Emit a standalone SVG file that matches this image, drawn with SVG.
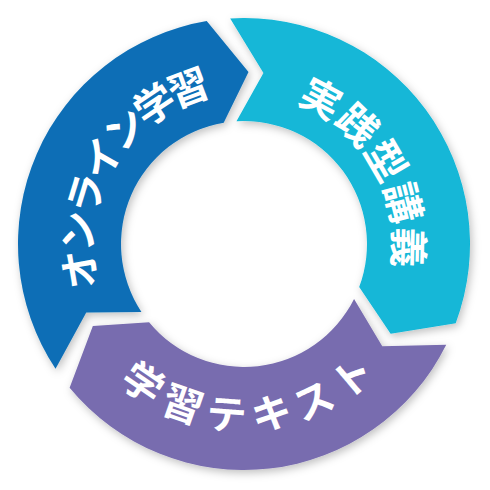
<svg xmlns="http://www.w3.org/2000/svg" width="490" height="490" viewBox="0 0 490 490">
  <defs>
    <filter id="shadow" x="-20%" y="-20%" width="140%" height="140%">
      <feDropShadow dx="2" dy="3" stdDeviation="4" flood-color="#000" flood-opacity="0.25"/>
    </filter>
    <path id="arcBlue" d="M168.1,375.46 A151.8,151.8 0 0 1 319.9,112.54"/>
    <path id="arcCyan" d="M168.53,114.60 A149.8,149.8 0 0 1 319.47,373.40"/>
    <path id="arcPurple" d="M57.06,253.80 A187.2,187.2 0 0 0 430.94,234.20"/>
  </defs>
  <style>
    .seg { filter: url(#shadow); }
    .lbl { fill: #ffffff; font-family: "Noto Sans CJK JP", "Noto Sans", sans-serif; font-weight: 700; }
  </style>
  <rect width="490" height="490" fill="#ffffff"/>

  <g id="node-online">
    <path class="seg" fill="#0A6EB6" d="M55.54,368.73 A226,226 0 0 1 206.71,21.10 L248.50,72.06 L223.70,122.69 A123,123 0 0 0 141.43,311.88 L86.26,312.58 Z"/>
    <text class="lbl" font-size="40" letter-spacing="-5.2" text-anchor="middle"><textPath href="#arcBlue" startOffset="50%">オンライン学習</textPath></text>
  </g>

  <g id="node-jissen">
    <path class="seg" fill="#12B7D7" d="M230.21,18.43 A226,226 0 0 1 455.69,323.15 L390.65,333.87 L359.21,287.07 A123,123 0 0 0 236.49,121.23 L263.47,73.10 Z"/>
    <text class="lbl" font-size="40" letter-spacing="1.3" text-anchor="middle"><textPath href="#arcCyan" startOffset="50%">実践型講義</textPath></text>
  </g>

  <g id="node-text">
    <path class="seg" fill="#786CAF" d="M446.25,344.84 A226,226 0 0 1 69.62,387.76 L92.85,326.08 L149.09,322.24 A123,123 0 0 0 354.07,298.88 L382.27,346.31 Z"/>
    <text class="lbl" font-size="40" letter-spacing="9" text-anchor="middle"><textPath href="#arcPurple" startOffset="50%">学習テキスト</textPath></text>
  </g>
</svg>
